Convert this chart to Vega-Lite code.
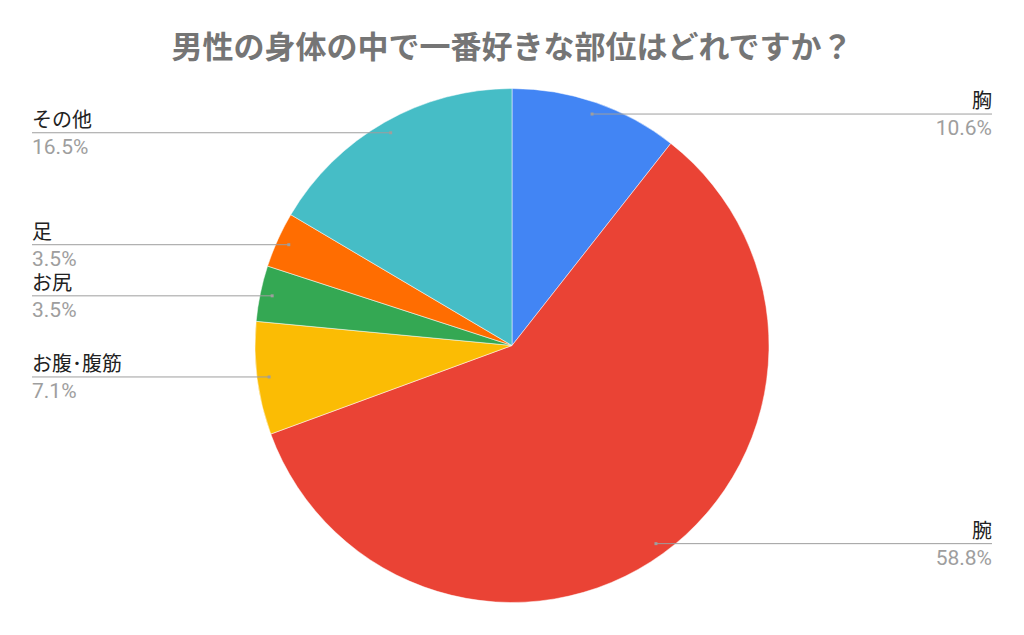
{
  "$schema": "https://vega.github.io/schema/vega-lite/v6.json",
  "width": 1024,
  "height": 541,
  "autosize": {"type": "none"},
  "padding": {"top": 75, "left": 0, "right": 0, "bottom": 19},
  "background": "white",
  "view": {"stroke": null},
  "title": {
    "text": "男性の身体の中で一番好きな部位はどれですか？",
    "font": "Noto Sans CJK JP",
    "fontSize": 31,
    "fontWeight": "bold",
    "color": "#757575",
    "anchor": "middle",
    "offset": 10
  },
  "data": {
    "values": [
      {"label": "胸", "value": 10.6},
      {"label": "腕", "value": 58.8},
      {"label": "お腹･腹筋", "value": 7.1},
      {"label": "お尻", "value": 3.5},
      {"label": "足", "value": 3.5},
      {"label": "その他", "value": 16.5}
    ]
  },
  "transform": [
    {"window": [{"op": "row_number", "as": "idx"}]},
    {"window": [{"op": "sum", "field": "value", "as": "cum"}], "sort": [{"field": "idx"}], "frame": [null, 0]},
    {"joinaggregate": [{"op": "sum", "field": "value", "as": "total"}]},
    {"calculate": "(datum.cum - datum.value / 2) / datum.total * 2 * PI", "as": "mid"},
    {"calculate": "0.953 * sin(datum.mid)", "as": "ax"},
    {"calculate": "0.953 * cos(datum.mid)", "as": "ay"},
    {"calculate": "datum.ax >= 0 ? 1.8677 : -1.8677", "as": "ex"},
    {"calculate": "format(datum.value, '.1f') + '%'", "as": "pct"}
  ],
  "layer": [
    {
      "mark": {"type": "arc", "outerRadius": 257, "stroke": "white", "strokeWidth": 0.5},
      "encoding": {
        "theta": {"field": "value", "type": "quantitative", "stack": true},
        "order": {"field": "idx", "type": "quantitative"},
        "color": {
          "field": "label",
          "type": "nominal",
          "legend": null,
          "scale": {
            "domain": ["胸", "腕", "お腹･腹筋", "お尻", "足", "その他"],
            "range": ["#4285F4", "#EA4335", "#FBBC04", "#34A853", "#FF6D01", "#46BDC6"]
          }
        }
      }
    },
    {
      "mark": {"type": "rule", "color": "#9e9e9e", "strokeWidth": 1},
      "encoding": {
        "x": {"field": "ax", "type": "quantitative", "axis": null, "scale": {"domain": [-1.99222, 1.99222], "nice": false, "zero": false}},
        "x2": {"field": "ex"},
        "y": {"field": "ay", "type": "quantitative", "axis": null, "scale": {"domain": [-1.05253, 1.05253], "nice": false, "zero": false}}
      }
    },
    {
      "mark": {"type": "square", "color": "#9e9e9e", "size": 9, "filled": true, "opacity": 1},
      "encoding": {
        "x": {"field": "ax", "type": "quantitative", "axis": null, "scale": {"domain": [-1.99222, 1.99222], "nice": false, "zero": false}},
        "y": {"field": "ay", "type": "quantitative", "axis": null, "scale": {"domain": [-1.05253, 1.05253], "nice": false, "zero": false}}
      }
    },
    {
      "transform": [{"filter": "datum.ax >= 0"}],
      "layer": [
        {
          "mark": {"type": "text", "align": "right", "baseline": "alphabetic", "dy": -6, "font": "Noto Sans CJK JP", "fontSize": 20, "color": "#222222"},
          "encoding": {
            "x": {"field": "ex", "type": "quantitative", "axis": null, "scale": {"domain": [-1.99222, 1.99222], "nice": false, "zero": false}},
            "y": {"field": "ay", "type": "quantitative", "axis": null, "scale": {"domain": [-1.05253, 1.05253], "nice": false, "zero": false}},
            "text": {"field": "label"}
          }
        },
        {
          "mark": {"type": "text", "align": "right", "baseline": "alphabetic", "dy": 21, "font": "Roboto", "fontSize": 21, "color": "#9e9e9e"},
          "encoding": {
            "x": {"field": "ex", "type": "quantitative", "axis": null, "scale": {"domain": [-1.99222, 1.99222], "nice": false, "zero": false}},
            "y": {"field": "ay", "type": "quantitative", "axis": null, "scale": {"domain": [-1.05253, 1.05253], "nice": false, "zero": false}},
            "text": {"field": "pct"}
          }
        }
      ]
    },
    {
      "transform": [{"filter": "datum.ax < 0"}],
      "layer": [
        {
          "mark": {"type": "text", "align": "left", "baseline": "alphabetic", "dy": -6, "font": "Noto Sans CJK JP", "fontSize": 20, "color": "#222222"},
          "encoding": {
            "x": {"field": "ex", "type": "quantitative", "axis": null, "scale": {"domain": [-1.99222, 1.99222], "nice": false, "zero": false}},
            "y": {"field": "ay", "type": "quantitative", "axis": null, "scale": {"domain": [-1.05253, 1.05253], "nice": false, "zero": false}},
            "text": {"field": "label"}
          }
        },
        {
          "mark": {"type": "text", "align": "left", "baseline": "alphabetic", "dy": 21, "font": "Roboto", "fontSize": 21, "color": "#9e9e9e"},
          "encoding": {
            "x": {"field": "ex", "type": "quantitative", "axis": null, "scale": {"domain": [-1.99222, 1.99222], "nice": false, "zero": false}},
            "y": {"field": "ay", "type": "quantitative", "axis": null, "scale": {"domain": [-1.05253, 1.05253], "nice": false, "zero": false}},
            "text": {"field": "pct"}
          }
        }
      ]
    }
  ]
}
